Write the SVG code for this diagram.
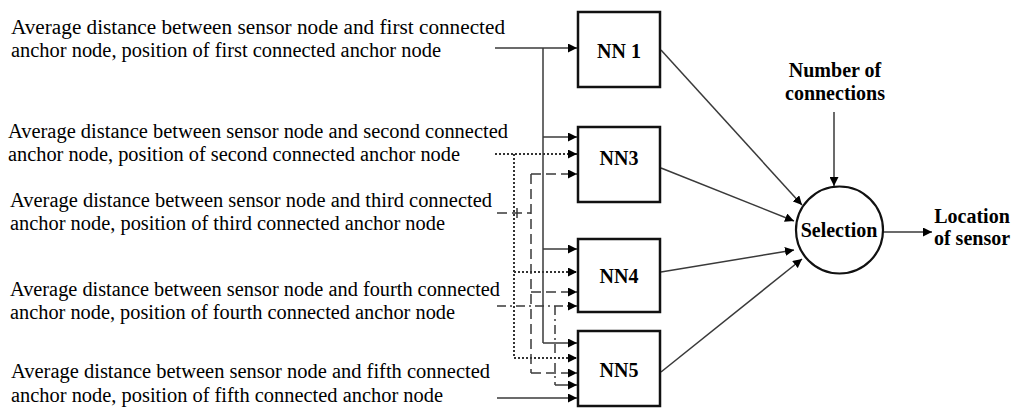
<svg xmlns="http://www.w3.org/2000/svg" width="1014" height="408" viewBox="0 0 1014 408">
  <defs>
    <marker id="arrow" viewBox="0 0 10 10" refX="10" refY="5" markerWidth="9" markerHeight="9" markerUnits="userSpaceOnUse" orient="auto">
      <path d="M0,0 L10,5 L0,10 z" fill="#000"/>
    </marker>
    <style>
      .in { font-family: "Liberation Serif", "Times New Roman", serif; font-size: 20.5px; fill: #000; }
      .lbl { font-family: "Liberation Serif", "Times New Roman", serif; font-size: 20px; font-weight: bold; fill: #000; text-anchor: middle; }
      .box { fill: #fff; stroke: #111; stroke-width: 2.5; }
      .w { fill: none; stroke: #3a3a3a; stroke-width: 1.5; }
      .dot { stroke-dasharray: 2 2; stroke-width: 2; stroke: #333; }
      .dash { stroke-dasharray: 10 5; }
      .dashdot { stroke-dasharray: 9 4 2 4; }
      .a { marker-end: url(#arrow); }
    </style>
  </defs>
  <rect width="1014" height="408" fill="#fff"/>

  <!-- input descriptions -->
  <g id="inputs">
    <text class="in" x="11" y="34" textLength="494" lengthAdjust="spacingAndGlyphs">Average distance between sensor node and first connected</text>
    <text class="in" x="11" y="57" textLength="430" lengthAdjust="spacingAndGlyphs">anchor node, position of first connected anchor node</text>
    <text class="in" x="8" y="138" textLength="500" lengthAdjust="spacingAndGlyphs">Average distance between sensor node and second connected</text>
    <text class="in" x="8" y="161" textLength="452" lengthAdjust="spacingAndGlyphs">anchor node, position of second connected anchor node</text>
    <text class="in" x="10" y="207" textLength="482" lengthAdjust="spacingAndGlyphs">Average distance between sensor node and third connected</text>
    <text class="in" x="10" y="230" textLength="435" lengthAdjust="spacingAndGlyphs">anchor node, position of third connected anchor node</text>
    <text class="in" x="10" y="296" textLength="490" lengthAdjust="spacingAndGlyphs">Average distance between sensor node and fourth connected</text>
    <text class="in" x="10" y="319" textLength="445" lengthAdjust="spacingAndGlyphs">anchor node, position of fourth connected anchor node</text>
    <text class="in" x="11" y="378" textLength="479" lengthAdjust="spacingAndGlyphs">Average distance between sensor node and fifth connected</text>
    <text class="in" x="11" y="402" textLength="432" lengthAdjust="spacingAndGlyphs">anchor node, position of fifth connected anchor node</text>
  </g>

  <!-- wiring between inputs, networks and selector -->
  <g id="connectors">
    <!-- first input: solid -->
    <path class="w a" d="M495,48 H577"/>
    <path class="w" d="M543,48 V343"/>
    <path class="w a" d="M543,137 H577"/>
    <path class="w a" d="M543,249 H577"/>
    <path class="w a" d="M543,343 H577"/>
    <!-- second input: dotted -->
    <path class="w dot a" d="M495,154 H577"/>
    <path class="w dot" d="M514,154 V358"/>
    <path class="w dot a" d="M514,272 H577"/>
    <path class="w dot a" d="M514,358 H577"/>
    <!-- third input: dashed -->
    <path class="w dash" d="M497,213 H531"/>
    <path class="w" d="M517,208 V218"/>
    <path class="w dash" d="M531,174 V373"/>
    <path class="w dash a" d="M531,174 H577"/>
    <path class="w dash a" d="M531,292 H577"/>
    <path class="w dash a" d="M531,373 H577"/>
    <!-- fourth input: dash-dot -->
    <path class="w dashdot a" d="M497,306 H577"/>
    <path class="w dashdot" d="M555,306 V385"/>
    <path class="w a" d="M555,385 H577"/>
    <!-- fifth input: solid -->
    <path class="w a" d="M497,398 H577"/>
    <!-- networks to selector -->
    <path class="w a" d="M661,50 L802,205"/>
    <path class="w a" d="M661,168 L794,221"/>
    <path class="w a" d="M661,272 L794,250"/>
    <path class="w a" d="M661,372 L802,259"/>
    <!-- selector inputs/outputs -->
    <path class="w a" d="M834,112 V186"/>
    <path class="w a" d="M883,232 H932"/>
  </g>

  <g id="nn1">
    <rect class="box" x="578" y="12" width="82" height="75"/>
    <text class="lbl" x="619" y="58" font-size="19">NN 1</text>
  </g>
  <g id="nn3">
    <rect class="box" x="578" y="127" width="82" height="75"/>
    <text class="lbl" x="619" y="165" font-size="19">NN3</text>
  </g>
  <g id="nn4">
    <rect class="box" x="578" y="239" width="82" height="73"/>
    <text class="lbl" x="619" y="283" font-size="19">NN4</text>
  </g>
  <g id="nn5">
    <rect class="box" x="578" y="331" width="82" height="75"/>
    <text class="lbl" x="619" y="377" font-size="19">NN5</text>
  </g>

  <g id="selection">
    <circle cx="839.5" cy="230" r="43.5" fill="#fff" stroke="#111" stroke-width="2.2"/>
    <text class="lbl" x="839" y="237">Selection</text>
  </g>

  <g id="connections-label">
    <text class="lbl" x="835" y="77">Number of</text>
    <text class="lbl" x="835" y="100">connections</text>
  </g>

  <g id="output-label">
    <text class="lbl" x="972" y="223">Location</text>
    <text class="lbl" x="972" y="245">of sensor</text>
  </g>
</svg>
